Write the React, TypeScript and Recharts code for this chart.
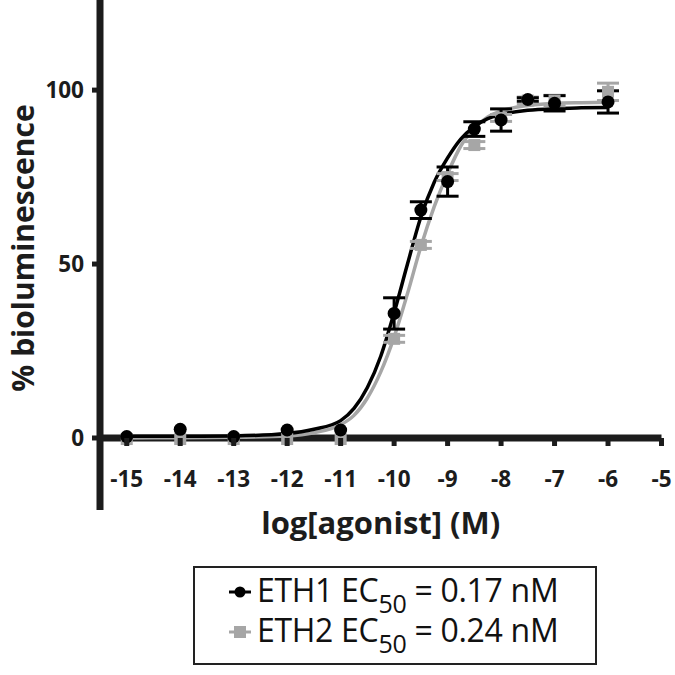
import React from 'react';
import { ComposedChart, Line, Scatter, XAxis, YAxis, ReferenceLine, ErrorBar, Label } from 'recharts';

const logConc = [-15, -14, -13, -12, -11, -10, -9.5, -9, -8.5, -8, -7.5, -7, -6];
const eth1Mean = [0.4, 2.5, 0.4, 2.3, 2.3, 35.8, 65.5, 73.7, 88.8, 91.4, 97.3, 96.2, 96.6];
const eth1Sem = [0, 0, 0, 0, 0, 4.5, 2.4, 4.2, 2.1, 3.2, 0.5, 2.2, 3.2];
const eth2Mean = [-0.3, -0.3, -0.3, -0.3, -0.3, 28.5, 55.5, 75, 84.2, 92, 97, 97, 99.5];
const eth2Sem = [0, 0, 0, 0, 0, 1, 1, 1, 1, 1, 1, 1.5, 2.5];

// fitted curves
const fitX = [-15, -14, -13, -12, -11.5, -11, -10.75, -10.5, -10.25, -10, -9.75, -9.5, -9.25, -9, -8.75, -8.5, -8.25, -8, -7.5, -7, -6.5, -6];
const eth1Fit = [0.5, 0.5, 0.6, 1.3, 2.5, 5, 8.5, 14.5, 23.5, 36, 50, 63.5, 73.5, 80.5, 86, 89.5, 91.8, 93, 94.2, 94.7, 94.9, 95];
const eth2Fit = [0, 0.1, 0.2, 0.6, 1.5, 3.8, 6.5, 11.5, 19, 29, 41.5, 55, 66.5, 76, 84, 89, 92.3, 94, 95.6, 96.2, 96.4, 96.5];

const xTicks = [-15, -14, -13, -12, -11, -10, -9, -8, -7, -6, -5];
const yTicks = [0, 50, 100];

const legendItems = [
    { name: 'ETH1', ec50: '0.17 nM', color: '#000000', shape: 'circle' },
    { name: 'ETH2', ec50: '0.24 nM', color: '#a6a6a6', shape: 'square' },
];

const FONT = '"Open Sans", sans-serif';
const AXIS = '#1c1c1c';
const GREY = '#a6a6a6';

const X_DOMAIN = [-15.5, -5];
const Y_DOMAIN = [-20.7, 125.9];
const PLOT_TOP = 0;
const PLOT_H = 510;
const Y0 = PLOT_TOP + (PLOT_H * Y_DOMAIN[1]) / (Y_DOMAIN[1] - Y_DOMAIN[0]);

const eth1Points = logConc.map((x, i) => ({ x, y: eth1Mean[i], err: eth1Sem[i] }));
const eth2Points = logConc.map((x, i) => ({ x, y: eth2Mean[i], err: eth2Sem[i] }));
const eth1Curve = fitX.map((x, i) => ({ x, y: eth1Fit[i] }));
const eth2Curve = fitX.map((x, i) => ({ x, y: eth2Fit[i] }));

function XTick(props: any) {
    const { x, payload } = props;
    return (
        <g>
            <line x1={x} x2={x} y1={Y0} y2={Y0 + 8} stroke={AXIS} strokeWidth={5} />
            <text x={x} y={Y0 + 49} textAnchor="middle" fontFamily={FONT} fontSize={22.5} fontWeight={700} fill={AXIS}>
                {payload.value}
            </text>
        </g>
    );
}

function XLabel(props: any) {
    const vb = props.viewBox;
    return (
        <text x={vb.x + vb.width / 2} y={vb.y + 24} textAnchor="middle" fontFamily={FONT} fontSize={31} fontWeight={700} fill={AXIS}>
            log[agonist] (M)
        </text>
    );
}

function YLabel(props: any) {
    const vb = props.viewBox;
    const cx = vb.x + 22;
    const cy = vb.y + vb.height / 2 - 7;
    return (
        <text x={cx} y={cy} transform={`rotate(-90, ${cx}, ${cy})`} textAnchor="middle" dominantBaseline="central" fontFamily={FONT} fontSize={30} fontWeight={700} fill={AXIS}>
            % bioluminescence
        </text>
    );
}

const Dot = (p: any) => <circle cx={p.cx} cy={p.cy} r={6.5} fill="#000" />;
const Square = (p: any) => <rect x={p.cx - 6} y={p.cy - 6} width={12} height={12} fill={GREY} />;

function LegendBox() {
    return (
        <div style={{ position: 'absolute', left: 193, top: 566, width: 404, height: 99, boxSizing: 'border-box', border: '2px solid #222', background: '#fff', fontFamily: FONT, fontSize: 32, color: '#111' }}>
            {legendItems.map((it, i) => (
                <div key={it.name} style={{ position: 'absolute', left: 0, top: 2 + i * 40, height: 40, lineHeight: '40px', whiteSpace: 'nowrap' }}>
                    <svg width={24} height={16} style={{ position: 'absolute', left: 33, top: 14 }}>
                        <line x1={1} x2={23} y1={8} y2={8} stroke={it.color} strokeWidth={3} />
                        {it.shape === 'circle'
                            ? <circle cx={12} cy={8} r={5.5} fill={it.color} />
                            : <rect x={6} y={2} width={12} height={12} fill={it.color} />}
                    </svg>
                    <span style={{ position: 'absolute', left: 62, letterSpacing: -0.3 }}>
                        {it.name} EC<span style={{ fontSize: 25, position: 'relative', top: 11 }}>50</span> = {it.ec50}
                    </span>
                </div>
            ))}
        </div>
    );
}

export default function App() {
    return (
        <div style={{ position: 'absolute', left: 0, top: 0, width: 675, height: 675, background: '#fff' }}>
            <ComposedChart width={675} height={545} margin={{ top: PLOT_TOP, right: 13.5, bottom: 0, left: 0 }}>
                <XAxis
                    type="number"
                    dataKey="x"
                    domain={X_DOMAIN}
                    ticks={xTicks}
                    allowDataOverflow
                    height={35}
                    axisLine={false}
                    tickLine={false}
                    tick={<XTick />}
                >
                    <Label content={<XLabel />} />
                </XAxis>
                <YAxis
                    type="number"
                    dataKey="y"
                    domain={Y_DOMAIN}
                    ticks={yTicks}
                    allowDataOverflow
                    width={100}
                    axisLine={{ stroke: AXIS, strokeWidth: 7 }}
                    tickLine={{ stroke: AXIS, strokeWidth: 5 }}
                    tickSize={8}
                    tickMargin={8}
                    tick={{ fontFamily: FONT, fontSize: 22.5, fontWeight: 700, fill: AXIS }}
                >
                    <Label content={<YLabel />} />
                </YAxis>
                <ReferenceLine y={0} stroke={AXIS} strokeWidth={7} ifOverflow="visible" />
                <Line data={eth2Curve} dataKey="y" type="monotone" stroke={GREY} strokeWidth={3.5} dot={false} isAnimationActive={false} />
                <Line data={eth1Curve} dataKey="y" type="monotone" stroke="#000" strokeWidth={3.5} dot={false} isAnimationActive={false} />
                <Scatter data={eth2Points} dataKey="y" shape={Square} isAnimationActive={false}>
                    <ErrorBar dataKey="err" direction="y" width={11} stroke={GREY} strokeWidth={3} isAnimationActive={false} />
                </Scatter>
                <Scatter data={eth1Points} dataKey="y" shape={Dot} isAnimationActive={false}>
                    <ErrorBar dataKey="err" direction="y" width={11} stroke="#000" strokeWidth={3} isAnimationActive={false} />
                </Scatter>
            </ComposedChart>
            <LegendBox />
        </div>
    );
}
